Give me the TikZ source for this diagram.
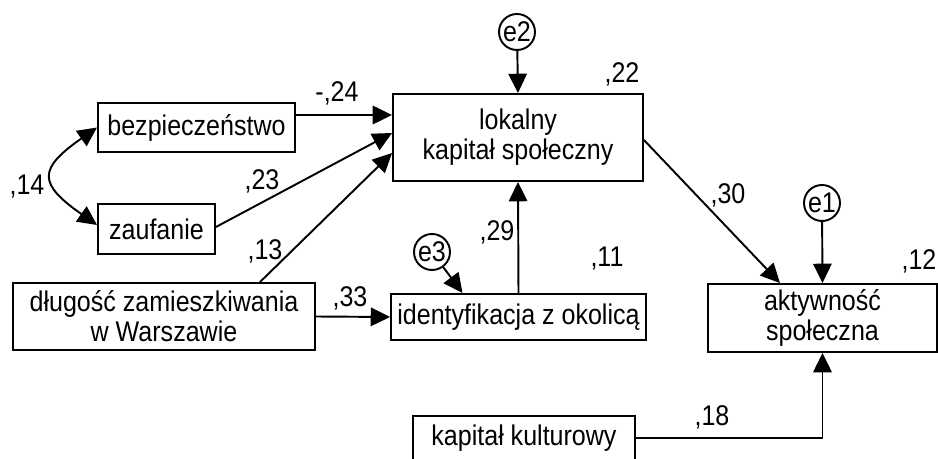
\documentclass[tikz,border=0pt]{standalone}
\usepackage{fontspec}
\setmainfont{Liberation Sans}[FakeStretch=0.88]
\usetikzlibrary{arrows.meta,positioning,calc}

\begin{document}
\begin{tikzpicture}[x=0.02cm, y=-0.02cm,
    box/.style={draw, line width=1.1pt, align=center, inner sep=0pt, font=\fontsize{16.2}{17}\selectfont},
    err/.style={draw, circle, line width=1.1pt, minimum size=0.72cm, inner sep=0pt, font=\fontsize{16.2}{17}\selectfont},
    coef/.style={inner sep=0pt, font=\fontsize{16.2}{17}\selectfont},
    arr/.style={-{Triangle[length=11pt,width=10.5pt]}, line width=1.1pt},
    dbl/.style={{Triangle[length=11pt,width=10.5pt]}-{Triangle[length=11pt,width=10.5pt]}, line width=1.1pt}
]
\useasboundingbox (0,0) rectangle (938,459);

\node[box, minimum width=3.94cm, minimum height=0.98cm] (bez) at (196.5,127.5) {bezpieczeństwo};
\node[box, minimum width=2.34cm, minimum height=1.0cm] (zauf) at (156.5,229) {zaufanie};
\node[box, minimum width=6.04cm, minimum height=1.34cm] (dlug) at (164,316.5) {długość zamieszkiwania\\w Warszawie};
\node[box, minimum width=5.0cm, minimum height=1.74cm] (lok) at (518,137.5) {lokalny\\kapitał społeczny};
\node[box, minimum width=5.1cm, minimum height=0.92cm] (ident) at (518.5,317) {identyfikacja z okolicą};
\node[box, minimum width=4.58cm, minimum height=1.36cm] (akt) at (822.5,318) {aktywność\\społeczna};
\node[box, minimum width=4.44cm, minimum height=0.88cm] (kult) at (524,438) {kapitał kulturowy};

\node[err] (e2) at (517,32) {e2};
\node[err] (e3) at (432,252) {e3};
\node[err] (e1) at (822,203) {e1};

% paths
\draw[arr] ($(bez.east)+(0,-12.5)$) -- ($(lok.west)+(0,-22.5)$);
\draw[arr] ($(zauf.east)+(0,-2)$) -- ($(lok.west)+(0,-4.5)$);
\draw[arr] ($(dlug.north)+(96,0)$) -- ($(lok.west)+(0,15.5)$);
\draw[arr] (dlug.east) -- (ident.west);
\draw[arr] (ident.north) -- (lok.south);
\draw[arr] (e2) -- (lok.north);
\draw[arr] (e3) -- ($(ident.north)+(-56,0)$);
\draw[arr] ($(lok.east)+(0,2.5)$) -- ($(akt.north)+(-42.5,0)$);
\draw[arr] (e1) -- (akt.north);
\draw[arr] (kult.east) -| (akt.south);
\draw[dbl] (bez.west) to[out=215,in=145,looseness=1.9] ($(zauf.west)+(0,-4)$);

% coefficients
\node[coef] (c24) at (337,93) {-,24};
\node[coef] (c23) at (262,181) {,23};
\node[coef] (c13) at (265,251) {,13};
\node[coef] (c33) at (350,298) {,33};
\node[coef] (c14) at (27,187) {,14};
\node[coef] (c22) at (622,74) {,22};
\node[coef] (c29) at (497,232) {,29};
\node[coef] (c11) at (607,259) {,11};
\node[coef] (c30) at (728,195) {,30};
\node[coef] (c12) at (919,261) {,12};
\node[coef] (c18) at (712,417) {,18};
\end{tikzpicture}
\end{document}
